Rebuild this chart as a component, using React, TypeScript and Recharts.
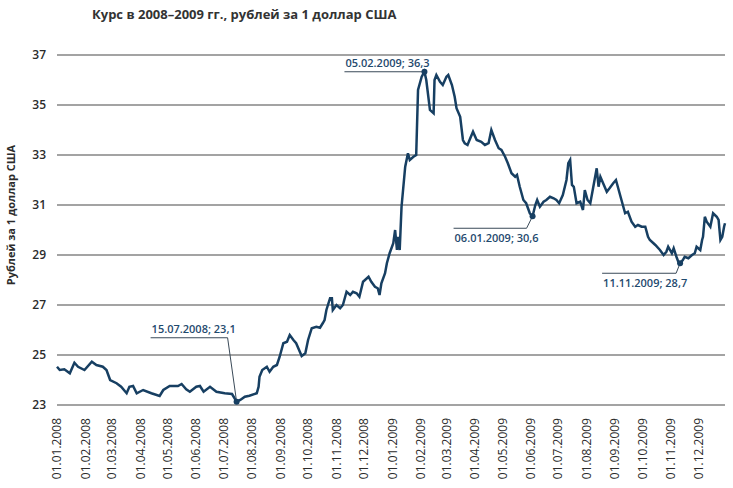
import React from 'react'
import { CartesianGrid, Line, LineChart, ReferenceDot, XAxis, YAxis } from 'recharts'

// курс доллара
const dates = [
    '01.01.2008', '04.01.2008', '09.01.2008', '15.01.2008', '20.01.2008', '24.01.2008', '31.01.2008',
    '08.02.2008', '13.02.2008', '20.02.2008', '24.02.2008', '28.02.2008',
    '06.03.2008', '11.03.2008', '17.03.2008', '20.03.2008', '24.03.2008', '28.03.2008',
    '04.04.2008', '13.04.2008', '22.04.2008', '26.04.2008',
    '03.05.2008', '12.05.2008', '16.05.2008', '21.05.2008', '25.05.2008',
    '01.06.2008', '05.06.2008', '09.06.2008', '16.06.2008', '23.06.2008',
    '02.07.2008', '10.07.2008', '15.07.2008', '19.07.2008', '24.07.2008', '29.07.2008',
    '06.08.2008', '08.08.2008', '09.08.2008', '12.08.2008', '17.08.2008', '20.08.2008', '24.08.2008', '28.08.2008', '31.08.2008',
    '04.09.2008', '08.09.2008', '11.09.2008', '15.09.2008', '18.09.2008', '22.09.2008', '24.09.2008', '28.09.2008',
    '01.10.2008', '05.10.2008', '10.10.2008', '14.10.2008', '17.10.2008', '19.10.2008', '21.10.2008', '25.10.2008', '27.10.2008', '28.10.2008',
    '01.11.2008', '05.11.2008', '08.11.2008', '12.11.2008', '16.11.2008', '19.11.2008', '23.11.2008', '26.11.2008', '30.11.2008',
    '06.12.2008', '09.12.2008', '13.12.2008', '16.12.2008', '18.12.2008', '20.12.2008', '24.12.2008', '26.12.2008', '29.12.2008',
    '02.01.2009', '04.01.2009', '06.01.2009', '07.01.2009', '09.01.2009', '11.01.2009', '15.01.2009', '18.01.2009', '20.01.2009', '24.01.2009', '27.01.2009', '29.01.2009',
    '02.02.2009', '05.02.2009', '07.02.2009', '11.02.2009', '15.02.2009', '16.02.2009', '18.02.2009', '22.02.2009', '25.02.2009',
    '01.03.2009', '03.03.2009', '07.03.2009', '10.03.2009', '12.03.2009', '16.03.2009', '19.03.2009', '21.03.2009', '24.03.2009', '27.03.2009', '30.03.2009',
    '03.04.2009', '08.04.2009', '12.04.2009', '16.04.2009', '19.04.2009', '23.04.2009', '27.04.2009', '30.04.2009',
    '04.05.2009', '07.05.2009', '11.05.2009', '15.05.2009', '17.05.2009', '20.05.2009', '24.05.2009', '27.05.2009', '31.05.2009',
    '03.06.2009', '06.06.2009', '08.06.2009', '11.06.2009', '15.06.2009', '18.06.2009', '22.06.2009', '26.06.2009', '29.06.2009',
    '02.07.2009', '06.07.2009', '10.07.2009', '12.07.2009', '14.07.2009', '16.07.2009', '18.07.2009', '21.07.2009', '25.07.2009', '28.07.2009', '30.07.2009',
    '02.08.2009', '05.08.2009', '08.08.2009', '12.08.2009', '14.08.2009', '16.08.2009', '19.08.2009', '23.08.2009', '26.08.2009', '30.08.2009',
    '02.09.2009', '05.09.2009', '08.09.2009', '12.09.2009', '15.09.2009', '19.09.2009', '23.09.2009', '26.09.2009', '30.09.2009',
    '04.10.2009', '07.10.2009', '09.10.2009', '15.10.2009', '20.10.2009', '24.10.2009', '27.10.2009', '29.10.2009',
    '02.11.2009', '04.11.2009', '07.11.2009', '09.11.2009', '11.11.2009', '14.11.2009', '16.11.2009', '20.11.2009', '24.11.2009', '27.11.2009', '29.11.2009',
    '03.12.2009', '05.12.2009', '06.12.2009', '08.12.2009', '10.12.2009', '14.12.2009', '17.12.2009', '21.12.2009', '23.12.2009', '25.12.2009', '27.12.2009', '29.12.2009', '30.12.2009',
]

const rates = [
    24.53, 24.4, 24.43, 24.27, 24.69, 24.53, 24.4,
    24.73, 24.6, 24.53, 24.4, 24.0,
    23.87, 23.73, 23.47, 23.73, 23.76, 23.47,
    23.6, 23.47, 23.36, 23.6,
    23.76, 23.76, 23.84, 23.63, 23.53,
    23.73, 23.76, 23.53, 23.73, 23.53,
    23.47, 23.44, 23.13, 23.2, 23.33, 23.37,
    23.47, 23.73, 24.13, 24.4, 24.53, 24.33, 24.53, 24.6, 24.93,
    25.47, 25.53, 25.8, 25.6, 25.47, 25.13, 24.96, 25.07,
    25.6, 26.07, 26.13, 26.09, 26.27, 26.4, 26.8, 27.27, 27.27, 26.8,
    27.0, 26.87, 27.0, 27.53, 27.4, 27.53, 27.47, 27.33, 27.93,
    28.13, 27.93, 27.73, 27.67, 27.4, 27.87, 28.27, 28.67, 29.07,
    29.47, 30.0, 29.2, 29.73, 29.2, 30.93, 32.53, 33.07, 32.8, 32.93, 33.0, 35.6,
    36.13, 36.33, 36.0, 34.8, 34.67, 36.0, 36.2, 35.93, 35.8,
    36.13, 36.2, 35.8, 35.33, 34.87, 34.53, 33.6, 33.47, 33.4, 33.67, 33.93,
    33.6, 33.53, 33.4, 33.47, 34.0, 33.6, 33.27, 33.2,
    32.93, 32.67, 32.27, 32.13, 32.2, 31.73, 31.2, 31.07, 30.67,
    30.55, 31.0, 31.2, 30.93, 31.13, 31.2, 31.33, 31.27, 31.2,
    31.07, 31.4, 32.0, 32.67, 32.8, 31.8, 31.73, 31.07, 31.13, 30.8, 31.6,
    31.2, 31.07, 31.67, 32.47, 31.73, 32.13, 31.87, 31.53, 31.67, 31.87,
    32.0, 31.6, 31.2, 30.67, 30.73, 30.33, 30.13, 30.2, 30.13,
    30.13, 29.73, 29.6, 29.4, 29.2, 29.0, 29.13, 29.33,
    29.07, 29.27, 28.93, 28.73, 28.67, 28.8, 28.93, 28.87, 29.0, 29.07, 29.33,
    29.2, 29.6, 29.73, 30.53, 30.33, 30.13, 30.67, 30.53, 30.4, 29.6, 29.73, 30.13, 30.27,
]

const monthTicks = [
    '01.01.2008', '01.02.2008', '01.03.2008', '01.04.2008', '01.05.2008', '01.06.2008',
    '01.07.2008', '01.08.2008', '01.09.2008', '01.10.2008', '01.11.2008', '01.12.2008',
    '01.01.2009', '01.02.2009', '01.03.2009', '01.04.2009', '01.05.2009', '01.06.2009',
    '01.07.2009', '01.08.2009', '01.09.2009', '01.10.2009', '01.11.2009', '01.12.2009',
]

const yTicks = [23, 25, 27, 29, 31, 33, 35, 37]

const noteDates = ['15.07.2008', '05.02.2009', '03.06.2009', '11.11.2009']
const noteValues = [23.13, 36.33, 30.55, 28.67]
const noteLabels = ['15.07.2008; 23,1', '05.02.2009; 36,3', '06.01.2009; 30,6', '11.11.2009; 28,7']

// where each callout sits relative to its dot
const noteLayout = [
    { lineDy: -64, x0: -86, x1: -9, textDy: -69 },
    { lineDy: 0, x0: -80, x1: 0, textDy: -5 },
    { lineDy: 12, x0: -79, x1: -6, textDy: 26 },
    { lineDy: 10, x0: -78, x1: -4, textDy: 24 },
]

const dayOf = (s: string) => {
    const [d, m, y] = s.split('.').map(Number)
    return (Date.UTC(y, m - 1, d) - Date.UTC(2008, 0, 1)) / 86400000
}

const data = dates.map((d, i) => ({ t: dayOf(d), rate: rates[i] }))
const tickDays = monthTicks.map(dayOf)

const FONT = '"Open Sans", "Noto Sans", sans-serif'
const NAVY = '#173f62'

const MonthTick = (props: any) => {
    const { x, y, payload } = props
    const i = tickDays.indexOf(payload.value)
    return (
        <text
            x={x}
            y={y}
            dy='0.35em'
            transform={`rotate(-90, ${x}, ${y})`}
            textAnchor='end'
            fontSize={12}
            fontFamily={FONT}
            fill='#2b2b2b'
        >
            {monthTicks[i]}
        </text>
    )
}

const makeCallout = (k: number) => (props: any) => {
    const { cx, cy } = props
    const l = noteLayout[k]
    const ly = cy + l.lineDy
    return (
        <g>
            <polyline
                points={`${cx + l.x0},${ly} ${cx + l.x1},${ly} ${cx},${cy}`}
                fill='none'
                stroke='#3a4a58'
                strokeWidth={1}
            />
            <circle cx={cx} cy={cy} r={3} fill={NAVY} />
            <text x={cx + l.x0 + 1} y={cy + l.textDy} fontSize={11} fontWeight={600} fontFamily={FONT} fill='#1f4a6e'>
                {noteLabels[k]}
            </text>
        </g>
    )
}

const App: React.FC = () => {
    return (
        <div style={{ position: 'absolute', left: 0, top: 0, width: 733, height: 488, background: '#fff' }}>
            <div
                style={{
                    position: 'absolute',
                    left: 92,
                    top: 5,
                    fontFamily: FONT,
                    fontWeight: 700,
                    fontSize: 13,
                    color: '#333',
                    whiteSpace: 'nowrap',
                }}
            >
                Курс в 2008–2009 гг., рублей за 1 доллар США
            </div>
            <div
                style={{
                    position: 'absolute',
                    left: 10,
                    top: 215,
                    transform: 'translate(-50%, -50%) rotate(-90deg)',
                    fontFamily: FONT,
                    fontWeight: 700,
                    fontSize: 11,
                    color: '#2b2b2b',
                    whiteSpace: 'nowrap',
                }}
            >
                Рублей за 1 доллар США
            </div>
            <LineChart width={733} height={488} data={data} margin={{ top: 55, right: 8, bottom: 3, left: 0 }}>
                <CartesianGrid vertical={false} stroke='#858585' strokeWidth={1.5} />
                <XAxis
                    type='number'
                    dataKey='t'
                    domain={[0, 729]}
                    ticks={tickDays}
                    interval={0}
                    height={80}
                    axisLine={false}
                    tickLine={false}
                    tickMargin={7}
                    tick={<MonthTick />}
                />
                <YAxis
                    type='number'
                    domain={[23, 37]}
                    ticks={yTicks}
                    interval={0}
                    width={57}
                    axisLine={false}
                    tickLine={false}
                    tickMargin={5}
                    tick={{ fontSize: 12, fontWeight: 600, fill: '#2b2b2b', fontFamily: FONT }}
                />
                <Line
                    type='linear'
                    dataKey='rate'
                    stroke={NAVY}
                    strokeWidth={2.5}
                    dot={false}
                    isAnimationActive={false}
                />
                {noteDates.map((d, k) => (
                    <ReferenceDot key={d} x={dayOf(d)} y={noteValues[k]} r={3} shape={makeCallout(k)} />
                ))}
            </LineChart>
        </div>
    )
}

export default App
